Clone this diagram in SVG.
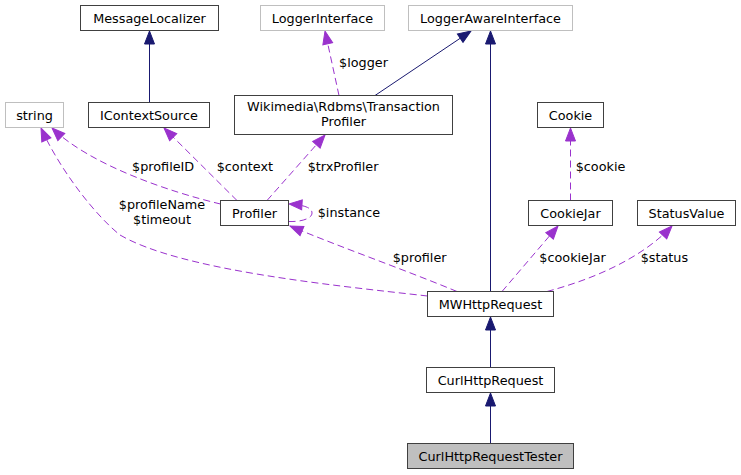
<svg xmlns="http://www.w3.org/2000/svg" width="741" height="475" viewBox="0 0 741 475">
<style>
text{font-family:"DejaVu Sans","Liberation Sans",sans-serif;font-size:12.8px;fill:#000}
.n{fill:#fff;stroke:#404040;stroke-width:1}
.g{fill:#fff;stroke:#bfbfbf;stroke-width:1}
.f{fill:#bfbfbf;stroke:#404040;stroke-width:1}
.c{text-anchor:middle}
.inh{fill:none;stroke:#191970;stroke-width:1;marker-end:url(#an)}
.use{fill:none;stroke:#9a32cd;stroke-width:1;stroke-dasharray:7,4;marker-end:url(#ap)}
</style>
<defs>
<marker id="an" markerUnits="userSpaceOnUse" markerWidth="15" markerHeight="13" refX="13" refY="5.5" orient="auto" viewBox="-1 -1 15 13">
<path d="M0,0.5 L13,5.5 L0,10.5 z" fill="#191970" stroke="#191970"/>
</marker>
<marker id="ap" markerUnits="userSpaceOnUse" markerWidth="15" markerHeight="13" refX="13" refY="5.5" orient="auto" viewBox="-1 -1 15 13">
<path d="M0,0.5 L13,5.5 L0,10.5 z" fill="#9a32cd" stroke="#9a32cd" stroke-dasharray="none"/>
</marker>
</defs>
<g id="edges">
<path class="inh" d="M149.5,102.5 V31"/>
<path class="inh" d="M375,95.5 L471,31"/>
<path class="inh" d="M490.5,291.5 V31"/>
<path class="inh" d="M490.5,367.5 V317"/>
<path class="inh" d="M490.5,443.5 V393"/>
<path class="use" d="M339,95.5 L325,31"/>
<path class="use" d="M570.5,200.5 V128"/>
<path class="use" d="M237,200.5 L164,128"/>
<path class="use" d="M267,200.5 L325,135"/>
<path class="use" d="M502,291.5 L558,226"/>
<path class="use" d="M547,291.5 C590,280 640,260 672,226"/>
<path class="use" d="M457,291.5 C400,268 340,247 290,226"/>
<path class="use" d="M220.5,204 C170,192 90,165 52,128"/>
<path class="use" d="M427.5,296 C330,285 180,270 120,235 C95,215 60,170 41,128"/>
<path class="use" d="M288.5,221.5 C300,222 312,219 312,213 C312,208 305,205 289,204"/>
<text x="339" y="66.5">$logger</text>
<text x="575.7" y="171">$cookie</text>
<text x="132" y="171">$profileID</text>
<text x="216.7" y="171">$context</text>
<text x="307.7" y="171">$trxProfiler</text>
<text x="317.7" y="217">$instance</text>
<text class="c" x="162" y="209">$profileName</text>
<text class="c" x="162" y="224">$timeout</text>
<text x="392.7" y="262">$profiler</text>
<text x="539.3" y="262">$cookieJar</text>
<text x="640.7" y="262">$status</text>
</g>
<g id="MessageLocalizer"><rect class="n" x="80.5" y="5.5" width="138" height="25"/><text class="c" x="149.5" y="22.5">MessageLocalizer</text></g>
<g id="LoggerInterface"><rect class="g" x="260.5" y="5.5" width="124" height="25"/><text class="c" x="322.5" y="22.5">LoggerInterface</text></g>
<g id="LoggerAwareInterface"><rect class="g" x="408.5" y="5.5" width="164" height="25"/><text class="c" x="490.5" y="22.5">LoggerAwareInterface</text></g>
<g id="string"><rect class="g" x="5.5" y="102.5" width="58" height="25"/><text class="c" x="34.5" y="119.5">string</text></g>
<g id="IContextSource"><rect class="n" x="88.5" y="102.5" width="121" height="25"/><text class="c" x="149" y="119.5">IContextSource</text></g>
<g id="TransactionProfiler"><rect class="n" x="234.5" y="95.5" width="218" height="39"/><text class="c" x="343.5" y="111">Wikimedia\Rdbms\Transaction</text><text class="c" x="343.5" y="126">Profiler</text></g>
<g id="Cookie"><rect class="n" x="537.5" y="102.5" width="66" height="25"/><text class="c" x="570.5" y="119.5">Cookie</text></g>
<g id="Profiler"><rect class="n" x="220.5" y="200.5" width="68" height="25"/><text class="c" x="254.5" y="217.5">Profiler</text></g>
<g id="CookieJar"><rect class="n" x="528.5" y="200.5" width="84" height="25"/><text class="c" x="570.5" y="217.5">CookieJar</text></g>
<g id="StatusValue"><rect class="n" x="637.5" y="200.5" width="98" height="25"/><text class="c" x="686.5" y="217.5">StatusValue</text></g>
<g id="MWHttpRequest"><rect class="n" x="427.5" y="291.5" width="126" height="25"/><text class="c" x="490.5" y="308.5">MWHttpRequest</text></g>
<g id="CurlHttpRequest"><rect class="n" x="426.5" y="367.5" width="128" height="25"/><text class="c" x="490.5" y="384.5">CurlHttpRequest</text></g>
<g id="CurlHttpRequestTester"><rect class="f" x="407.5" y="443.5" width="166" height="25"/><text class="c" x="490.5" y="460.5">CurlHttpRequestTester</text></g>
</svg>
